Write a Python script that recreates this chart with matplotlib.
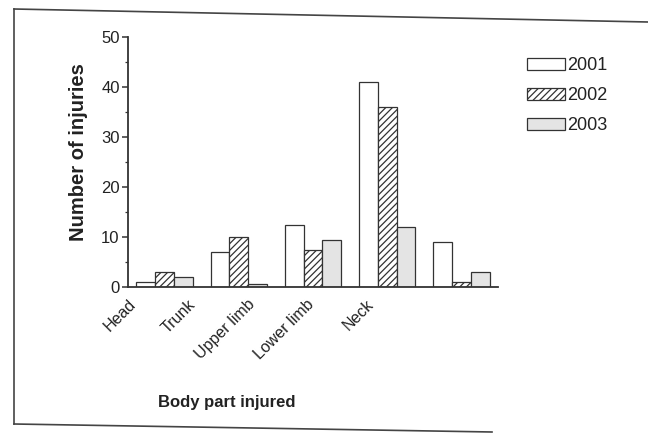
import matplotlib
matplotlib.use("Agg")
import matplotlib.pyplot as plt
from matplotlib.lines import Line2D
from matplotlib.patches import Patch
from matplotlib.ticker import MultipleLocator
import numpy as np

# 数据
body_parts = ["Head", "Trunk", "Upper limb", "Lower limb", "Neck"]
years = ["2001", "2002", "2003"]
injuries_2001 = [1, 7, 12.5, 41, 9]
injuries_2002 = [3, 10, 7.5, 36, 1]
injuries_2003 = [2, 0.7, 9.5, 12, 3]

plt.rcParams["font.family"] = ["Liberation Sans", "DejaVu Sans"]
plt.rcParams["hatch.linewidth"] = 0.9
TXT = "#222222"

fig = plt.figure(figsize=(6.48, 4.34), dpi=100)
ax = fig.add_axes([128 / 648, 1 - 287 / 434, 370 / 648, 250 / 434])

x = np.arange(len(body_parts))
w = 0.253
styles = [
    dict(facecolor="white", hatch=None),
    dict(facecolor="white", hatch="/////"),
    dict(facecolor="#e4e4e4", hatch=None),
]
series = [injuries_2001, injuries_2002, injuries_2003]
for i, (vals, st) in enumerate(zip(series, styles)):
    ax.bar(x + (i - 1) * w, vals, width=w, edgecolor="#333333",
           linewidth=0.9, **st)

ax.set_xlim(-0.45, 4.49)
ax.set_ylim(0, 50)
ax.spines["top"].set_visible(False)
ax.spines["right"].set_visible(False)
for s in ("left", "bottom"):
    ax.spines[s].set_linewidth(1.3)
    ax.spines[s].set_color("#333333")

ax.yaxis.set_major_locator(MultipleLocator(10))
ax.yaxis.set_minor_locator(MultipleLocator(5))
ax.tick_params(axis="y", which="major", length=4, width=1.1, pad=2,
               labelsize=12, labelcolor=TXT, color="#333333")
ax.tick_params(axis="y", which="minor", length=2, width=0.9, color="#333333")

# 类别标签（与原图一样略微偏左排列）
label_pos = x * 0.8 - 0.49
ax.set_xticks(label_pos)
ax.set_xticklabels(body_parts, rotation=45, ha="right", va="top",
                   rotation_mode="anchor", fontsize=11.5, color=TXT)
ax.tick_params(axis="x", length=0, pad=7)

fig.text(227 / 648, 1 - 402 / 434, "Body part injured", fontsize=12,
         fontweight="bold", color=TXT, ha="center", va="center")
fig.text(78 / 648, 1 - 152 / 434, "Number of injuries", fontsize=14.5,
         fontweight="bold", color=TXT, ha="center", va="center",
         rotation=90)

handles = [Patch(edgecolor="#333333", linewidth=0.9, **st) for st in styles]
ax.legend(handles, years, loc="upper left",
          bbox_to_anchor=(527 / 648, 1 - 57 / 434),
          bbox_transform=fig.transFigure, frameon=False, fontsize=13,
          handlelength=2.1, handleheight=0.65, handletextpad=0.15,
          labelspacing=0.72, borderpad=0, borderaxespad=0, labelcolor=TXT)

# 扫描页面的外框
frame_kw = dict(color="#444444", linewidth=1.2, transform=fig.transFigure)
fig.add_artist(Line2D([14 / 648, 14 / 648], [1 - 9 / 434, 1 - 424 / 434], **frame_kw))
fig.add_artist(Line2D([14 / 648, 1.0], [1 - 9 / 434, 1 - 22 / 434], **frame_kw))
fig.add_artist(Line2D([14 / 648, 492 / 648], [1 - 424 / 434, 1 - 432 / 434], **frame_kw))

fig.savefig("out.png", dpi=100)
